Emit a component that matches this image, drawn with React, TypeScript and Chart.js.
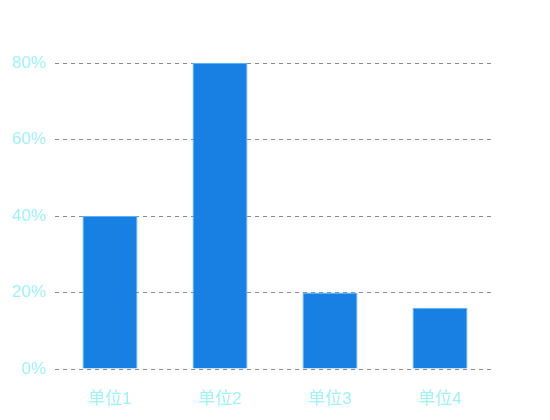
import { useEffect, useRef } from 'react'
import Chart from 'chart.js/auto'

const categories = ['单位1', '单位2', '单位3', '单位4']
const values = [40, 80, 20, 16]
const yTicks = [0, 20, 40, 60, 80]

const FONT = '"Liberation Sans", "Noto Sans CJK SC", sans-serif'
const LABEL_COLOR = '#9ff2f7'

export default function App() {
  const ref = useRef<HTMLCanvasElement>(null)

  useEffect(() => {
    if (!ref.current) return

    const chart = new Chart(ref.current, {
      type: 'bar',
      data: {
        labels: categories,
        datasets: [
          {
            data: values,
            backgroundColor: '#1780e2',
            borderColor: '#5cb2ff',
            borderWidth: 1,
            barPercentage: 0.5,
            categoryPercentage: 1,
          },
        ],
      },
      options: {
        animation: false,
        responsive: false,
        layout: { padding: { top: 63, right: 55, left: 0, bottom: 0 } },
        plugins: {
          legend: { display: false },
          tooltip: { enabled: false },
        },
        scales: {
          x: {
            grid: { display: false, drawTicks: false },
            border: { display: false },
            ticks: {
              color: LABEL_COLOR,
              font: { family: FONT, size: 17 },
              padding: 20,
            },
            afterFit: (scale: any) => {
              scale.height = 51
            },
          },
          y: {
            min: yTicks[0],
            max: yTicks[yTicks.length - 1],
            grid: { color: '#8a8a8a', drawTicks: false, lineWidth: 1 },
            border: { display: false, dash: [4, 4] },
            afterBuildTicks: (scale: any) => {
              scale.ticks = yTicks.map((v) => ({ value: v }))
            },
            ticks: {
              color: LABEL_COLOR,
              font: { family: FONT, size: 17 },
              padding: 9,
              callback: (v: any) => v + '%',
            },
            afterFit: (scale: any) => {
              scale.width = 55
            },
          },
        },
      },
    })

    return () => chart.destroy()
  }, [])

  return (
    <div style={{ position: 'fixed', left: 0, top: 0, width: 550, height: 420, background: '#fff' }}>
      <canvas ref={ref} width={550} height={420} />
    </div>
  )
}
